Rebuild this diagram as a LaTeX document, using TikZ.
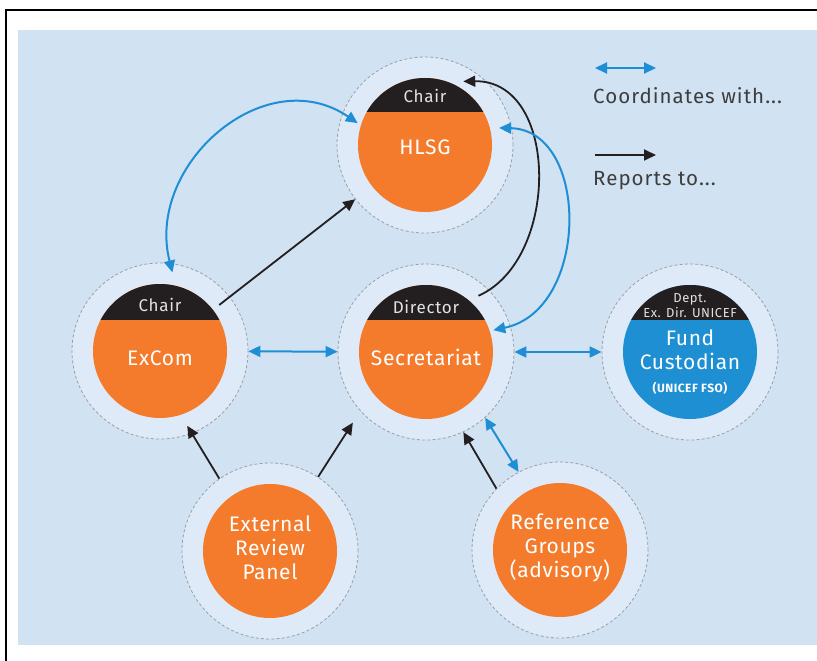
\documentclass[tikz,border=0pt]{standalone}
\usepackage{fontspec}
\setmainfont{Fira Sans}
\newfontfamily\namefont{Fira Sans}[LetterSpace=3]
\newfontfamily\capfont{Fira Sans}[LetterSpace=4]
\newfontfamily\legfont{Fira Sans}[LetterSpace=5]
\usetikzlibrary{arrows.meta,calc}
\definecolor{bgblue}{HTML}{D1E2F3}
\definecolor{ringblue}{HTML}{DEEAF7}
\definecolor{dashgray}{HTML}{9A9FA6}
\definecolor{orng}{HTML}{F37B2B}
\definecolor{capblk}{HTML}{231F20}
\definecolor{fundblue}{HTML}{1D8FD2}
\definecolor{arrblue}{HTML}{1E8FD5}
\definecolor{arrblk}{HTML}{231F20}
\definecolor{legtext}{HTML}{3D3D3D}
\definecolor{captxt}{HTML}{E2E2E2}
\begin{document}
\begin{tikzpicture}[x=1pt,y=-1pt,
 ring/.style={circle, minimum size=176pt, inner sep=0pt, fill=ringblue, draw=dashgray, line width=0.8pt, dash pattern=on 3pt off 2.2pt},
 core/.style={circle, minimum size=134pt, inner sep=0pt, fill=orng},
 captext/.style={text=captxt, font=\capfont\fontsize{17}{18}\selectfont, inner sep=0pt},
 smallcap/.style={text=captxt, font=\capfont\fontsize{13}{15}\selectfont, align=center, inner sep=0pt},
 nametext/.style={text=white, font=\namefont\fontsize{21}{24}\selectfont, align=center, inner sep=0pt},
 coordline/.style={draw=arrblue, line width=2pt, {Triangle[length=12pt,width=11pt]}-{Triangle[length=12pt,width=11pt]}},
 repline/.style={draw=arrblk, line width=1.8pt, -{Triangle[length=12pt,width=11pt]}},
 legtxt/.style={text=legtext, font=\legfont\fontsize{20.5}{22}\selectfont, anchor=west, inner sep=0pt}
]
\useasboundingbox (0,0) rectangle (817,661);
\fill[bgblue] (18,30) rectangle (817,645);
\draw[line width=2pt] (6,661) -- (6,10) -- (817,10);

% rings
\node[ring] (hlsgO) at (425,145) {};
\node[ring] (excomO) at (160,351) {};
\node[ring] (secO) at (426,352) {};
\node[ring] (fundO) at (690,352) {};
\node[ring] (erpO) at (270,551) {};
\node[ring] (rgO) at (560,550) {};

% cores
\node[core] (hlsg) at (425,145) {};
\node[core] (excom) at (160,351) {};
\node[core] (sec) at (426,352) {};
\node[core, fill=fundblue] (fund) at (690,352) {};
\node[core] (erp) at (270,551) {};
\node[core] (rg) at (560,550) {};

% caps
\begin{scope}\clip (425,145) circle[radius=67pt]; \fill[capblk] (355,70) rectangle (495,112);\end{scope}
\begin{scope}\clip (160,351) circle[radius=67pt]; \fill[capblk] (90,280) rectangle (230,320);\end{scope}
\begin{scope}\clip (426,352) circle[radius=67pt]; \fill[capblk] (356,280) rectangle (496,320);\end{scope}
\begin{scope}\clip (690,352) circle[radius=67pt]; \fill[capblk] (620,280) rectangle (760,320);\end{scope}

% texts
\node[captext] (hlsgCap) at (425,96) {Chair};
\node[nametext] (hlsgName) at (425,147) {HLSG};
\node[captext] (excomCap) at (160,305) {Chair};
\node[nametext] (excomName) at (160,358) {ExCom};
\node[captext] (secCap) at (426,307) {Director};
\node[nametext] (secName) at (426,357) {Secretariat};
\node[smallcap] (fundCap) at (690,306) {Dept.\\Ex. Dir. UNICEF};
\node[nametext] (fundName) at (690,350) {Fund\\Custodian};
\node[text=white, font=\capfont\bfseries\fontsize{12}{13}\selectfont, inner sep=0pt] (fundSub) at (690,388) {(UNICEF FSO)};
\node[nametext] (erpName) at (270,548) {External\\Review\\Panel};
\node[nametext] (rgName) at (560,548) {Reference\\Groups\\(advisory)};

% straight connectors
\draw[coordline] (excomO) -- (secO);
\draw[coordline] (secO) -- (fundO);
\draw[repline] ($(excom)!75pt!(hlsg)$) -- (hlsgO);
\draw[repline] (erpO.125) -- ($(excom)!0.9!(excomO.290)$);
\draw[repline] (erpO.57) -- ($(sec)!1.15!(secO.224)$);
\draw[repline] (rgO.136) -- (secO.295);
\draw[coordline] (rgO.118) -- (secO.312);

% curved connectors
\draw[coordline] ($(excom)!0.9!(excomO.81)$) .. controls (145,165) and (265,60) .. ($(hlsg)!0.8!(hlsgO.162)$);
\draw[repline] ($(sec)!0.87!(secO.47)$) .. controls (560,260) and (560,80) .. ($(hlsg)!0.84!(hlsgO.59)$);
\draw[coordline] ($(hlsg)!0.86!(hlsgO.13)$) .. controls (590,130) and (590,310) .. ($(sec)!0.8!(secO.18)$);

% legend
\coordinate (l1a) at (595,68);
\coordinate (l1b) at (656,68);
\coordinate (l2a) at (595,155);
\coordinate (l2b) at (656,155);
\draw[coordline] (l1a) -- (l1b);
\draw[repline] (l2a) -- (l2b);
\node[legtxt] (legCoord) at (593,96) {Coordinates with...};
\node[legtxt] (legRep) at (593,181) {Reports to...};
\end{tikzpicture}
\end{document}
